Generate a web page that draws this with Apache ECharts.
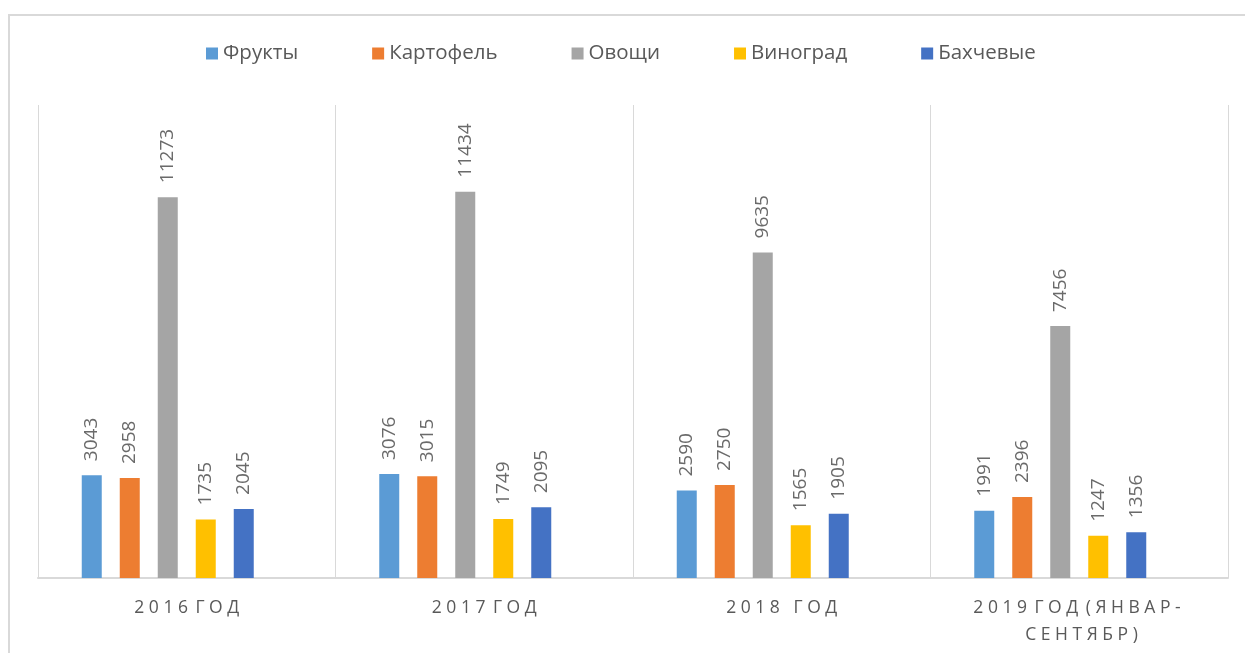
<!DOCTYPE html>
<html>
<head>
<meta charset="utf-8">
<script src="https://cdn.jsdelivr.net/npm/echarts@6/dist/echarts.min.js"></script>
<style>
  html, body { margin: 0; padding: 0; background: #fff; }
  #chart { width: 1245px; height: 653px; }
</style>
</head>
<body>
<div id="chart"></div>
<script>
// годы (категории по оси X)
const years = ['2016 ГОД', '2017 ГОД', '2018  ГОД', '2019 ГОД (ЯНВАР-СЕНТЯБР)'];
const fruits = [3043, 3076, 2590, 1991];
const potato = [2958, 3015, 2750, 2396];
const vegetables = [11273, 11434, 9635, 7456];
const grapes = [1735, 1749, 1565, 1247];
const melons = [2045, 2095, 1905, 1356];

const textColor = '#595959';
const lineColor = '#d9d9d9';
const font = 'Open Sans';

// разрядка букв как в оригинале
function spaced(s) {
  return s.replace(/  /g, '\u00a0').replace(/ /g, '\u2009')
    .replace('-', '-\n').split('').join(' ').replace(/ \u2009 /g, ' \u2009');
}

function bar(name, data, color) {
  return {
    name: name,
    type: 'bar',
    data: data,
    barWidth: 20,
    barGap: '90%',
    itemStyle: { color: color },
    label: {
      show: true,
      position: 'top',
      rotate: 90,
      align: 'left',
      verticalAlign: 'middle',
      distance: 14,
      color: '#6a6a6a',
      fontFamily: font,
      fontSize: 19
    }
  };
}

let chart = echarts.init(document.getElementById('chart'));
let option = {
  animation: false,
  graphic: [{
    type: 'rect',
    shape: { x: 9, y: 15, width: 1400, height: 800 },
    style: { fill: 'none', stroke: lineColor, lineWidth: 2 },
    silent: true
  }],
  legend: {
    top: 38,
    left: 201,
    itemWidth: 12,
    itemHeight: 12,
    itemGap: 74,
    icon: 'rect',
    data: ['Фрукты', 'Картофель', 'Овощи', 'Виноград', 'Бахчевые'],
    textStyle: { color: textColor, fontFamily: font, fontSize: 20.5 }
  },
  grid: { left: 38, right: 17, top: 105, bottom: 75 },
  xAxis: {
    type: 'category',
    data: years,
    axisLine: { lineStyle: { color: lineColor, width: 2 } },
    axisTick: { show: false },
    splitLine: { show: true, lineStyle: { color: lineColor, width: 1 } },
    axisLabel: {
      interval: 0,
      margin: 17,
      color: textColor,
      fontFamily: font,
      fontSize: 17.5,
      lineHeight: 27,
      formatter: v => spaced(v)
    }
  },
  yAxis: {
    type: 'value',
    min: 0,
    max: 14000,
    show: false,
    splitLine: { show: false }
  },
  series: [
    bar('Фрукты', fruits, '#5b9bd5'),
    bar('Картофель', potato, '#ed7d31'),
    bar('Овощи', vegetables, '#a5a5a5'),
    bar('Виноград', grapes, '#ffc000'),
    bar('Бахчевые', melons, '#4472c4'),
    // пустой ряд, как в исходной диаграмме (сдвигает группу влево)
    { name: 'пусто', type: 'bar', data: [null, null, null, null], barWidth: 20, barGap: '90%' }
  ]
};
chart.setOption(option);
</script>
</body>
</html>
